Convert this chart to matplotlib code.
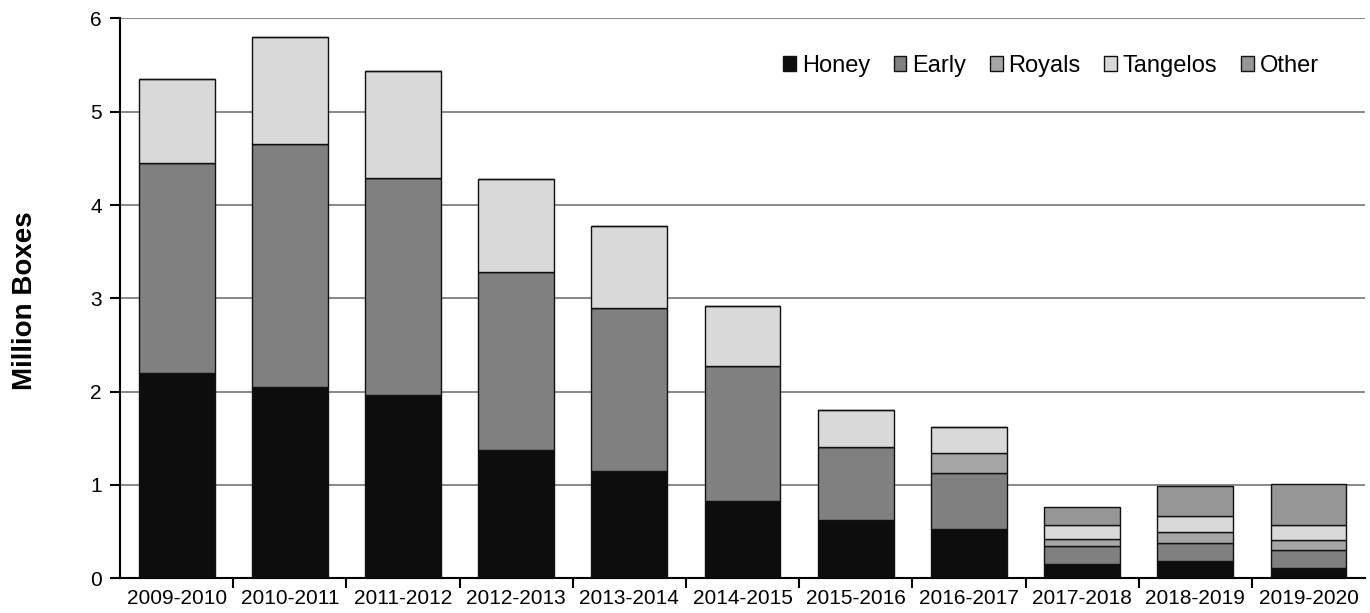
import numpy as np
import matplotlib
matplotlib.use("Agg")
import matplotlib.pyplot as plt

plt.rcParams['font.family'] = ['Liberation Sans', 'DejaVu Sans']

seasons = ["2009-2010", "2010-2011", "2011-2012", "2012-2013", "2013-2014", "2014-2015",
           "2015-2016", "2016-2017", "2017-2018", "2018-2019", "2019-2020"]
honey = [2.20, 2.05, 1.96, 1.37, 1.15, 0.83, 0.63, 0.53, 0.15, 0.19, 0.11]
early = [2.25, 2.60, 2.33, 1.91, 1.75, 1.44, 0.78, 0.60, 0.20, 0.19, 0.19]
royals = [0, 0, 0, 0, 0, 0, 0, 0.21, 0.07, 0.12, 0.11]
tangelos = [0.90, 1.15, 1.15, 1.00, 0.88, 0.65, 0.39, 0.28, 0.15, 0.165, 0.16]
other = [0, 0, 0, 0, 0, 0, 0, 0, 0.19, 0.32, 0.44]

series = [("Honey", honey, "#0d0d0d"),
          ("Early", early, "#808080"),
          ("Royals", royals, "#a6a6a6"),
          ("Tangelos", tangelos, "#d9d9d9"),
          ("Other", other, "#969696")]

fig = plt.figure(figsize=(13.7, 6.13), dpi=100)
ax = fig.add_axes([0.0876, 0.0566, 0.9088, 0.9134])

x = np.arange(len(seasons))
bottom = np.zeros(len(seasons))
for name, vals, col in series:
    vals = np.array(vals)
    ax.bar(x, vals, 0.67, bottom=bottom, color=col, edgecolor="#111111",
           linewidth=1.0, label=name, zorder=3)
    bottom += vals

ax.set_ylim(0, 6)
ax.set_xlim(-0.5, len(seasons) - 0.5)
ax.set_yticks(range(7))
ax.yaxis.grid(True, color="#888888", linewidth=1.4, zorder=0)
ax.set_axisbelow(True)

ax.set_xticks(x)
ax.set_xticklabels(seasons, fontsize=15)
ax.tick_params(axis="x", which="major", length=0, pad=8)
ax.set_xticks(np.arange(0.5, len(seasons) - 0.5, 1), minor=True)
ax.tick_params(axis="x", which="minor", length=7, width=1.5)
ax.tick_params(axis="y", length=7, width=1.5, labelsize=15, pad=6)

for s in ["top", "right"]:
    ax.spines[s].set_visible(False)
for s in ["left", "bottom"]:
    ax.spines[s].set_linewidth(1.5)

ax.set_ylabel("Million Boxes", fontsize=20, fontweight="bold")
ax.yaxis.set_label_coords(-0.0655, 0.495)

ax.legend(loc="center left", bbox_to_anchor=(783 / 1370, 1 - 66 / 613),
          bbox_transform=fig.transFigure, ncol=5, frameon=False,
          fontsize=17, handlelength=0.54, handleheight=0.56, handletextpad=0.25,
          columnspacing=1.0, borderpad=0, borderaxespad=0)

plt.savefig("out.png", dpi=100)
